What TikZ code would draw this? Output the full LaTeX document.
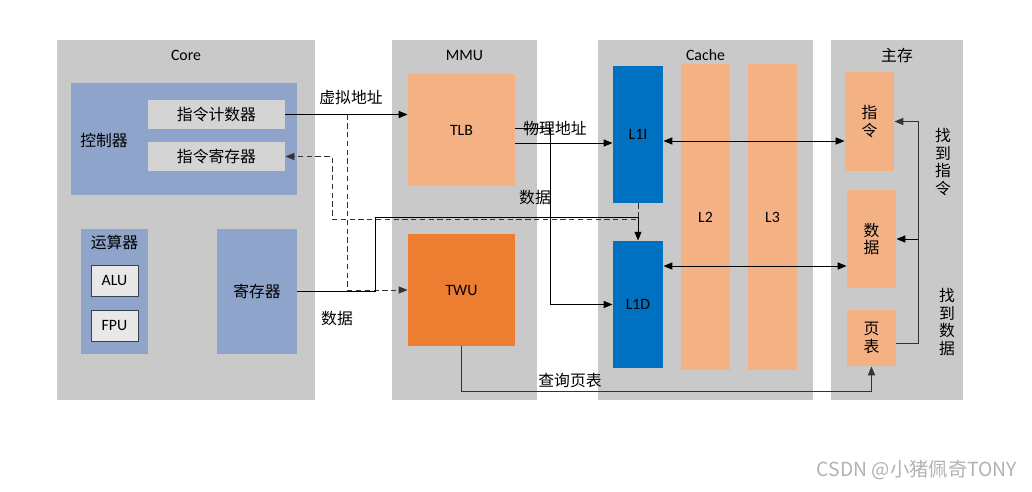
\documentclass[tikz,border=0pt]{standalone}
\usepackage{fontspec}
\setmainfont{Carlito}
\newfontfamily\cjk{Noto Sans CJK SC}
\usetikzlibrary{arrows.meta}
\definecolor{panelgray}{HTML}{C9C9C9}
\definecolor{ctrlblue}{HTML}{8EA4CA}
\definecolor{slotgray}{HTML}{D4D4D4}
\definecolor{peach}{HTML}{F4B183}
\definecolor{deeporange}{HTML}{ED7D31}
\definecolor{cacheblue}{HTML}{0070C0}

\begin{document}
\begin{tikzpicture}[x=0.02cm, y=-0.02cm, >={Triangle[length=5pt,width=4pt]}, font=\fontsize{9}{11}\selectfont, line width=0.55pt]
\tikzstyle{panel} = [fill=panelgray, inner sep=0pt]
\tikzstyle{ctrlbox} = [fill=ctrlblue, inner sep=0pt]
\tikzstyle{slot} = [fill=slotgray, inner sep=0pt]
\tikzstyle{fpbox} = [fill=gray!18, draw=ctrlblue!40!black, line width=0.4pt, inner sep=0pt]
\tikzstyle{peachbox} = [fill=peach, inner sep=0pt]
\tikzstyle{cachebox} = [fill=cacheblue, inner sep=0pt]
\tikzstyle{fetch} = [densely dashed, black!80, line width=0.5pt]
\tikzset{zh/.style={font=\cjk\fontsize{9}{11}\selectfont}, zhcol/.style={font=\cjk\fontsize{9}{10.2}\selectfont, align=center}}
\useasboundingbox (0,0) rectangle (1032,491);

% panels
\node [panel, minimum width=5.16cm, minimum height=7.2cm] (core) at (186,220) {};
\node [panel, minimum width=2.9cm, minimum height=7.2cm] (mmu) at (464.5,220) {};
\node [panel, minimum width=4.3cm, minimum height=7.2cm] (cache) at (705.5,220) {};
\node [panel, minimum width=2.64cm, minimum height=7.2cm] (mem) at (897,220) {};
\node (coretitle) at (186,55) {Core};
\node (mmutitle) at (464.5,55) {MMU};
\node (cachetitle) at (705.5,55) {Cache};
\node [zh] (memtitle) at (897,55) {主存};

% core
\node [ctrlbox, minimum width=4.52cm, minimum height=2.24cm] (ctrl) at (184,139) {};
\node [zh] (ctrltext) at (104,140) {控制器};
\node [slot, zh, minimum width=2.74cm, minimum height=0.58cm] (pc) at (216.5,114.5) {指令计数器};
\node [slot, zh, minimum width=2.74cm, minimum height=0.58cm] (ir) at (216.5,156.5) {指令寄存器};
\node [ctrlbox, minimum width=1.34cm, minimum height=2.5cm] (alugrp) at (114.5,291.5) {};
\node [zh] (alutext) at (114.5,242) {运算器};
\node [fpbox, minimum width=0.94cm, minimum height=0.62cm] (alu) at (114.5,280.5) {ALU};
\node [fpbox, minimum width=0.94cm, minimum height=0.62cm] (fpu) at (114.5,325.5) {FPU};
\node [ctrlbox, zh, minimum width=1.6cm, minimum height=2.5cm] (reg) at (257,291.5) {寄存器};

% mmu
\node [peachbox, minimum width=2.14cm, minimum height=2.24cm] (tlb) at (461.5,130) {TLB};
\node [fill=deeporange, inner sep=0pt, minimum width=2.14cm, minimum height=2.24cm] (twu) at (461.5,290) {TWU};

% cache
\node [cachebox, minimum width=1cm, minimum height=2.74cm] (l1i) at (638,134.5) {L1I};
\node [cachebox, minimum width=1cm, minimum height=2.54cm] (l1d) at (638,304.5) {L1D};
\node [peachbox, minimum width=0.98cm, minimum height=6.12cm] (l2) at (705.5,217) {L2};
\node [peachbox, minimum width=0.98cm, minimum height=6.12cm] (l3) at (772.5,217) {L3};

% main memory
\node [peachbox, zhcol, minimum width=0.98cm, minimum height=1.98cm] (meminst) at (869.5,121.5) {指\\令};
\node [peachbox, zhcol, minimum width=0.98cm, minimum height=1.96cm] (memdata) at (871.5,239) {数\\据};
\node [peachbox, zhcol, minimum width=0.98cm, minimum height=1.12cm] (pgtab) at (871.5,338) {页\\表};

% connectors
\coordinate (va) at (347,114.5);
\coordinate (ib) at (332,219);
\coordinate (rb) at (375,217);
\coordinate (pb) at (550,128);
\coordinate (fk) at (918,121.5);
\coordinate (qb) at (461.5,391);

\draw [->] (pc.east) -- (pc.east -| tlb.west);
\draw [fetch, ->] (va) |- (twu.west);
\draw [fetch, ->] (l1i.south) |- (ib) |- (ir.east);
\draw [->] (reg.east) -| (rb) -| (l1d.north);
\draw [->] ([yshift=-0.26cm]tlb.east) -- ([yshift=-0.26cm]tlb.east -| l1i.west);
\draw [->] (tlb.east |- pb) -- (pb) |- (l1d.west);
\draw [<->] ([yshift=-0.13cm]l1i.east) -- ([yshift=-0.13cm]l1i.east -| meminst.west);
\draw [<->] ([yshift=0.77cm]l1d.east) -- ([yshift=0.77cm]l1d.east -| memdata.west);
\draw [->, black!80] ([yshift=-0.1cm]pgtab.east) -| (fk) -- (meminst.east);
\draw [->] (fk |- memdata.east) -- (memdata.east);
\draw [->, black!80] (twu.south) -- (qb) -| (pgtab.south);

% labels
\node [zh] (valabel) at (351,97) {虚拟地址};
\node [zh] (palabel) at (555,128) {物理地址};
\node [zh] (dlabel1) at (535,198) {数据};
\node [zh] (dlabel2) at (337,318) {数据};
\node [zh] (qlabel) at (570,381) {查询页表};
\node [zhcol] (finst) at (943,162) {找\\到\\指\\令};
\node [zhcol] (fdata) at (947,322) {找\\到\\数\\据};
\node [font=\cjk\fontsize{11}{13}\selectfont, text=gray!60] (mark) at (917,470) {CSDN @小猪佩奇TONY};
\end{tikzpicture}
\end{document}
